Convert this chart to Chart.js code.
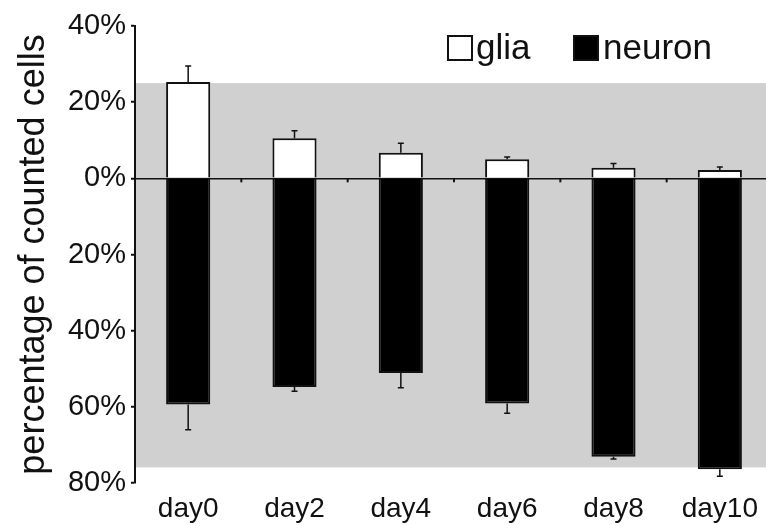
<!DOCTYPE html>
<html>
<head>
<meta charset="utf-8">
<script src="https://cdn.jsdelivr.net/npm/chart.js@4"></script>
<style>
    html, body { margin: 0; padding: 0; background: #fff; overflow: hidden; }
    #wrap { width: 778px; height: 525px; }
</style>
</head>
<body>
<div id="wrap"><canvas id="chart" width="778" height="525"></canvas></div>
<script>
// data (percent of counted cells)
const days = ['day0', 'day2', 'day4', 'day6', 'day8', 'day10'];
const glia = [25.3, 10.5, 6.7, 5.0, 2.8, 2.2];
const gliaErr = [4.2, 2.0, 2.5, 0.6, 1.1, 0.8];
const neuron = [-59.4, -54.8, -51.1, -59.1, -73.1, -76.4];
const neuronErr = [6.6, 1.1, 3.9, 2.6, 0.6, 1.8];
const yTicks = [40, 20, 0, -20, -40, -60, -80];
const shadeRange = [25, -75.9];

const FONT = "'Liberation Sans', Arial, sans-serif";
const INK = '#111';

// grey band behind the bars
const shadePlugin = {
    id: 'shade',
    beforeDraw(chart) {
        const { ctx, chartArea, scales } = chart;
        const top = scales.y.getPixelForValue(shadeRange[0]);
        const bottom = scales.y.getPixelForValue(shadeRange[1]);
        ctx.save();
        ctx.fillStyle = '#d0d0d0';
        ctx.fillRect(chartArea.left, top, chartArea.right - chartArea.left, bottom - top);
        ctx.restore();
    }
};

// one-sided error bars + small category ticks under the zero line
const errorPlugin = {
    id: 'errors',
    afterDatasetsDraw(chart) {
        const { ctx, scales } = chart;
        const y = scales.y, x = scales.x;
        ctx.save();
        ctx.strokeStyle = INK;
        ctx.lineWidth = 1.5;
        const sets = [[0, glia, gliaErr, 1], [1, neuron, neuronErr, -1]];
        sets.forEach(([idx, vals, errs, dir]) => {
            chart.getDatasetMeta(idx).data.forEach((bar, i) => {
                const y0 = y.getPixelForValue(vals[i]);
                const y1 = y.getPixelForValue(vals[i] + dir * errs[i]);
                ctx.beginPath();
                ctx.moveTo(bar.x, y0);
                ctx.lineTo(bar.x, y1);
                ctx.moveTo(bar.x - 3, y1);
                ctx.lineTo(bar.x + 3, y1);
                ctx.stroke();
            });
        });
        const zero = y.getPixelForValue(0);
        ctx.lineWidth = 2;
        for (let i = 1; i < days.length; i++) {
            const bx = (x.getPixelForValue(i - 1) + x.getPixelForValue(i)) / 2;
            ctx.beginPath();
            ctx.moveTo(bx, zero);
            ctx.lineTo(bx, zero + 4);
            ctx.stroke();
        }
        ctx.restore();
    }
};

// legend in the top right corner
const legendPlugin = {
    id: 'boxLegend',
    afterDraw(chart) {
        const { ctx } = chart;
        const items = [
            { text: 'glia', fill: '#fff', bx: 448, tx: 476 },
            { text: 'neuron', fill: '#000', bx: 574, tx: 603 }
        ];
        ctx.save();
        ctx.font = '35px ' + FONT;
        ctx.textBaseline = 'alphabetic';
        items.forEach(it => {
            ctx.fillStyle = it.fill;
            ctx.fillRect(it.bx, 36, 24, 24);
            ctx.strokeStyle = INK;
            ctx.lineWidth = 2;
            ctx.strokeRect(it.bx, 36, 24, 24);
            ctx.fillStyle = INK;
            ctx.fillText(it.text, it.tx, 59);
        });
        ctx.restore();
    }
};

const ctx = document.getElementById('chart').getContext('2d');
new Chart(ctx, {
    type: 'bar',
    data: {
        labels: days,
        datasets: [
            {
                label: 'glia',
                data: glia,
                backgroundColor: '#fff',
                borderColor: INK,
                borderWidth: 2,
                barPercentage: 0.415,
                categoryPercentage: 1
            },
            {
                label: 'neuron',
                data: neuron,
                backgroundColor: '#000',
                borderColor: INK,
                borderWidth: 2,
                barPercentage: 0.415,
                categoryPercentage: 1
            }
        ]
    },
    options: {
        responsive: false,
        animation: false,
        layout: { padding: { top: 26, right: 5, left: 0, bottom: 0 } },
        plugins: {
            legend: { display: false },
            tooltip: { enabled: false }
        },
        scales: {
            x: {
                stacked: true,
                grid: { display: false },
                border: { display: false },
                ticks: { color: INK, font: { family: FONT, size: 28 }, padding: 1 },
                afterFit: s => { s.height = 42; }
            },
            y: {
                stacked: true,
                min: -80,
                max: 40,
                afterBuildTicks: s => { s.ticks = yTicks.map(v => ({ value: v })); },
                afterFit: s => { s.width = 135; },
                border: { display: true, color: INK, width: 2 },
                grid: {
                    drawOnChartArea: true,
                    color: c => (c.tick && c.tick.value === 0 ? INK : 'transparent'),
                    lineWidth: 1.5,
                    tickColor: INK,
                    tickLength: 4,
                    tickWidth: 2
                },
                ticks: {
                    color: INK,
                    padding: 5,
                    font: { family: FONT, size: 29 },
                    callback: v => Math.abs(v) + '%'
                },
                title: {
                    display: true,
                    text: 'percentage of counted cells',
                    color: INK,
                    font: { family: FONT, size: 36 },
                    padding: { top: 12, bottom: 0 }
                }
            }
        }
    },
    plugins: [shadePlugin, errorPlugin, legendPlugin]
});
</script>
</body>
</html>
